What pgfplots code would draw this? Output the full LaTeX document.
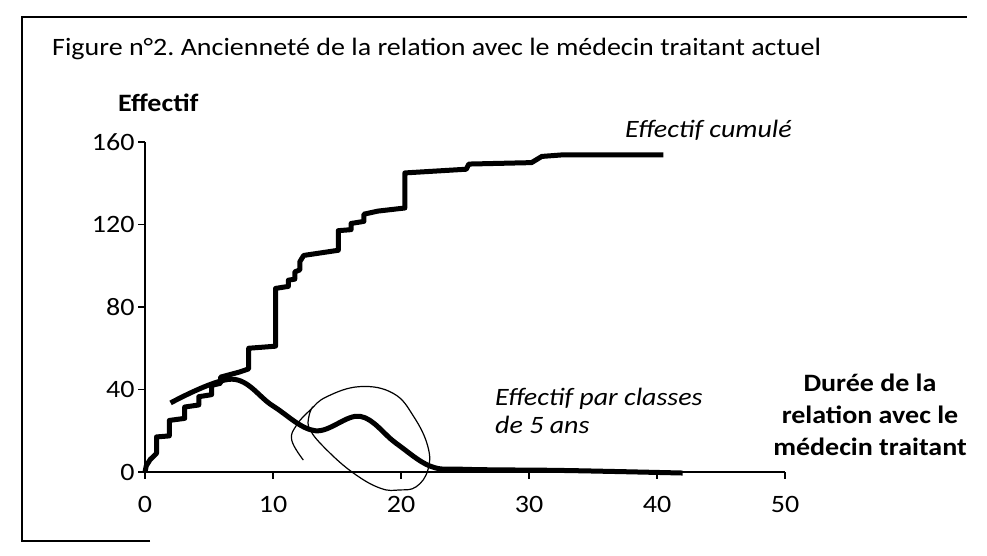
\documentclass[border=0pt]{standalone}
\usepackage{fontspec}
\setmainfont{Carlito}[FakeStretch=1.12]
\usepackage{pgfplots}
\pgfplotsset{compat=1.18}

\pgfplotstableread{
x y
0 0
0.1 3
0.4 6
0.9 9
0.9 17
1.9 17.5
1.9 25
3.1 26
3.1 31.5
4.2 32.5
4.2 36.5
5.2 37.5
5.2 42
5.9 43
5.9 46
7.4 48.5
8.1 50
8.1 60
10.2 61
10.2 89
11.2 90
11.2 93
11.7 93.5
11.7 97
12.1 98
12.1 102
12.4 105
15.1 107.5
15.1 117
16.1 117.5
16.1 120.5
17.1 121.5
17.1 125
18.2 126.5
20.3 128
20.3 145
25.1 146.8
25.3 149.3
30.2 150
31 153
32.5 153.7
40.5 153.7
}\cumul

\pgfplotstableread{
x y
2 33.5
6.8 45
10 32
13.3 20
16.8 27
19.6 14
22.3 2.8
25 1.3
32 0.8
37 0.2
42 -0.5
}\classes

\begin{document}
\frenchspacing
\begin{tikzpicture}[x=1pt,y=1pt]
\path (0,0) rectangle (987,556);
% cadre
\draw[line width=1.5pt] (150,15) -- (22,15) -- (22,539) -- (967,539);

\begin{axis}[
  at={(145pt,84pt)}, anchor=origin,
  width=640pt, height=330pt, scale only axis,
  xmin=0, xmax=50, ymin=0, ymax=160,
  xtick={0,10,...,50}, ytick={0,40,...,160},
  axis lines=left,
  axis line style={-, line width=1.5pt},
  tick style={line width=1.5pt, black},
  tick align=outside, major tick length=7pt,
  tick label style={font=\fontsize{25}{25}\selectfont},
  x tick label style={yshift=-14pt},
  /pgf/number format/assume math mode=true,
  clip=false,
]
\addplot[black, line width=5pt, line join=round] table {\cumul};
\addplot[black, line width=5pt, smooth, tension=0.6] table {\classes};
% ellipse tracee a la main
\addplot[black, line width=1.2pt, smooth, tension=0.7, forget plot] coordinates {
  (12.37,5.8) (11.46,15.5) (11.85,22.8) (12.9,30) (14.2,36.5) (16.8,41.4)
  (19.4,38.1) (21.0,26.8) (22.1,12.3) (22.1,1) (21.2,-7.1) (19.9,-8.7)
  (18.4,-7.9) (16.3,-0.6) (14.2,10.7) (12.9,20.4) (12.8,26.8) (13.1,31.7)
};
\end{axis}

\node[anchor=base west, inner sep=0pt, font=\fontsize{25}{25}\selectfont]
  at (52,500) {Figure n°2. Ancienneté de la relation avec le médecin traitant actuel};
\node[anchor=west, inner sep=0pt, font=\fontsize{25}{25}\selectfont\bfseries]
  at (118,453) {Effectif};
\node[anchor=west, inner sep=0pt, font=\fontsize{25}{25}\selectfont\itshape]
  at (625,426) {Effectif cumulé};
\node[anchor=west, inner sep=0pt, align=left, font=\fontsize{25}{28}\selectfont\itshape]
  at (495,145) {Effectif par classes\\de 5 ans};
\node[anchor=center, inner sep=0pt, align=center, font=\fontsize{25}{32}\selectfont\bfseries]
  at (870,141) {Durée de la\\relation avec le\\médecin traitant};
\end{tikzpicture}
\end{document}
